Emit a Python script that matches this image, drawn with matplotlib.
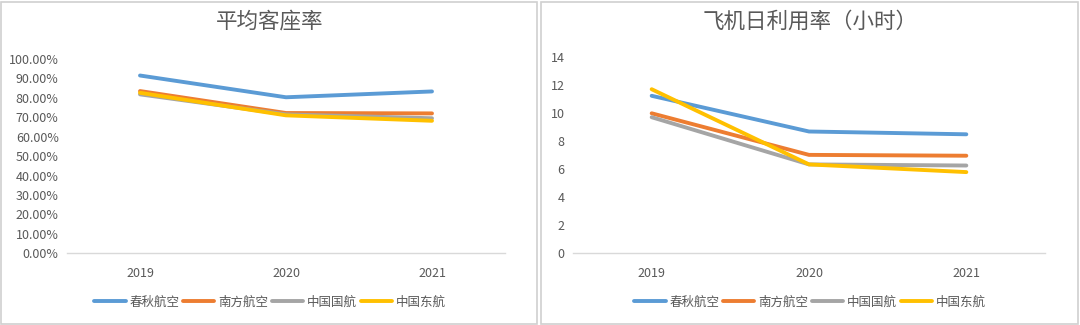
import matplotlib
matplotlib.use("Agg")
import matplotlib.pyplot as plt
from matplotlib.patches import Rectangle
from matplotlib.ticker import FuncFormatter

plt.rcParams['font.family'] = ['Noto Sans CJK SC', 'DejaVu Sans']

years = ['2019', '2020', '2021']
airlines = ['春秋航空', '南方航空', '中国国航', '中国东航']
colors = ['#5B9BD5', '#ED7D31', '#A5A5A5', '#FFC000']

# 平均客座率 (fraction)
load_factor = {
    '春秋航空': [0.915, 0.803, 0.833],
    '南方航空': [0.835, 0.722, 0.720],
    '中国国航': [0.818, 0.715, 0.695],
    '中国东航': [0.826, 0.710, 0.682],
}
# 飞机日利用率（小时）
utilization = {
    '春秋航空': [11.25, 8.70, 8.50],
    '南方航空': [10.00, 7.03, 6.97],
    '中国国航': [9.72, 6.35, 6.27],
    '中国东航': [11.72, 6.35, 5.80],
}

fig = plt.figure(figsize=(10.8, 3.25), dpi=100)
fig.patch.set_facecolor('white')

# panel borders
for x0, w in [(1/1080, 536/1080), (541/1080, 537/1080)]:
    fig.add_artist(Rectangle((x0, 1/325), w, 322/325, transform=fig.transFigure,
                             fill=False, edgecolor='#D0D0D0', linewidth=1.2))

ax1 = fig.add_axes([67/1080, 1-253.3/325, 438/1080, (253.3-59)/325])
ax2 = fig.add_axes([573/1080, 1-253.3/325, 472/1080, (253.3-57.3)/325])

x = list(range(len(years)))
for ax, data, ylim, step, fmt, title, tx in [
    (ax1, load_factor, 1.0, 0.1, lambda v, p: f'{v*100:.2f}%', '平均客座率', 270/1080),
    (ax2, utilization, 14, 2, lambda v, p: f'{v:.0f}', '飞机日利用率（小时）', 810/1080)]:
    for name, c in zip(airlines, colors):
        ax.plot(x, data[name], color=c, linewidth=2.8, label=name, solid_capstyle='round')
    ax.set_xlim(-0.5, 2.5)
    ax.set_ylim(0, ylim)
    n = int(round(ylim / step))
    ax.set_yticks([i * step for i in range(n + 1)])
    ax.yaxis.set_major_formatter(FuncFormatter(fmt))
    ax.set_xticks(x)
    ax.set_xticklabels(years)
    for s in ['top', 'right', 'left']:
        ax.spines[s].set_visible(False)
    ax.spines['bottom'].set_color('#D9D9D9')
    ax.spines['bottom'].set_linewidth(1.0)
    ax.tick_params(axis='both', length=0, labelsize=9, colors='#595959', pad=6)
    ax.tick_params(axis='x', pad=10)
    fig.text(tx, 1-22/325, title, ha='center', va='center', fontsize=15.5, color='#595959')
    handles, labels = ax.get_legend_handles_labels()
    fig.legend(handles, labels, loc='center', bbox_to_anchor=(tx, 1-302/325), ncol=4,
               frameon=False, fontsize=9, handlelength=2.5, handletextpad=0.3,
               columnspacing=0.3, labelcolor='#595959')

fig.savefig('out.png', dpi=100, facecolor='white')
